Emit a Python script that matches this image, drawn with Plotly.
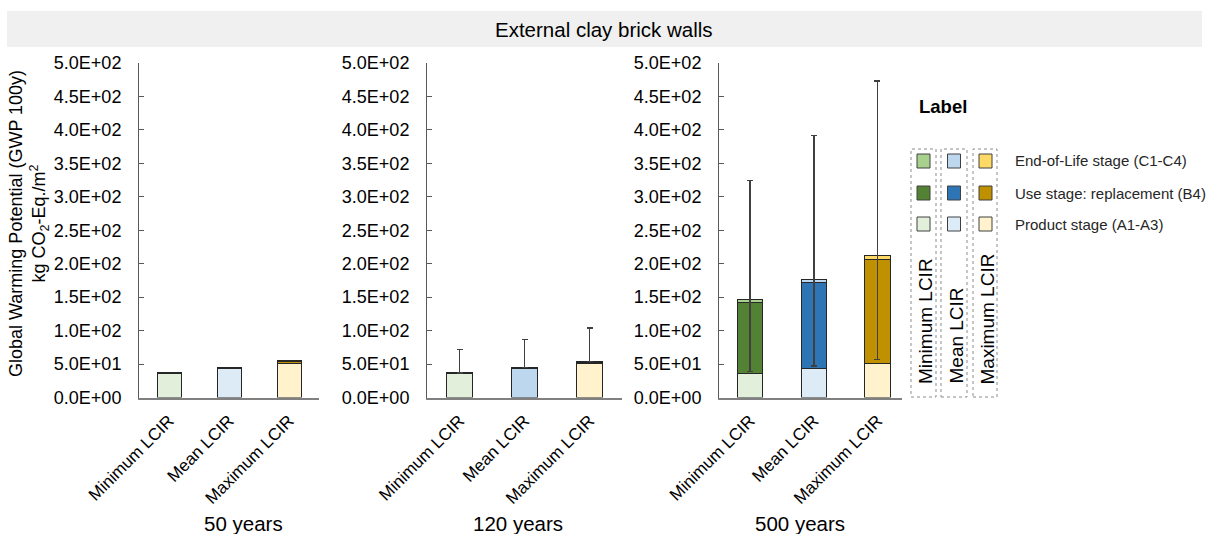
import plotly.graph_objects as go

W, H = 1212, 534

categories = ["Minimum LCIR", "Mean LCIR", "Maximum LCIR"]
periods = ["50 years", "120 years", "500 years"]
stage_labels = ["End-of-Life stage (C1-C4)", "Use stage: replacement (B4)", "Product stage (A1-A3)"]

# values (kg CO2-Eq./m2)
product_50 = [36.0, 43.0, 51.5]
b4_50 = [0.0, 0.0, 2.5]
eol_50 = [1.2, 1.2, 1.2]

product_120 = [36.0, 43.0, 51.5]
b4_120 = [0.0, 0.8, 1.3]
eol_120 = [1.0, 1.2, 1.2]
err_plus_120 = [35.0, 42.0, 50.0]
err_minus_120 = [0.0, 0.0, 0.0]

product_500 = [36.0, 43.0, 51.5]
b4_500 = [106.0, 129.5, 155.5]
eol_500 = [5.0, 4.5, 6.0]
err_plus_500 = [177.0, 215.0, 260.0]
err_minus_500 = [108.0, 130.0, 156.0]

ytick_vals = [0, 50, 100, 150, 200, 250, 300, 350, 400, 450, 500]
ytick_text = ["0.0E+00", "5.0E+01", "1.0E+02", "1.5E+02", "2.0E+02", "2.5E+02",
              "3.0E+02", "3.5E+02", "4.0E+02", "4.5E+02", "5.0E+02"]

product_colors = ["#E2EFDA", "#DDEBF7", "#FFF2CC"]
product_colors_120 = ["#E2EFDA", "#BDD7EE", "#FFF2CC"]
b4_colors = ["#548235", "#2E75B6", "#BF9000"]
eol_colors = ["#A9D18E", "#BDD7EE", "#FFD966"]

FONT = "Liberation Sans, Arial, sans-serif"


def px(x):
    return x / W


def py(y):
    return 1 - y / H


panels = [
    dict(prod=product_50, b4=b4_50, eol=eol_50, pc=product_colors, ep=None, em=None,
         dom=(139, 319), rng=[-0.5, 2.5]),
    dict(prod=product_120, b4=b4_120, eol=eol_120, pc=product_colors_120, ep=err_plus_120, em=err_minus_120,
         dom=(427, 622), rng=[-0.5, 2.5]),
    dict(prod=product_500, b4=b4_500, eol=eol_500, pc=product_colors, ep=err_plus_500, em=err_minus_500,
         dom=(719, 902), rng=[-0.487, 2.385]),
]

fig = go.Figure()
line = dict(color="#262626", width=1)
layout_axes = {}
for i, p in enumerate(panels, start=1):
    xa = "x" if i == 1 else f"x{i}"
    ya = "y" if i == 1 else f"y{i}"
    fig.add_trace(go.Bar(x=categories, y=p["prod"], xaxis=xa, yaxis=ya,
                         marker=dict(color=p["pc"], line=line), name=stage_labels[2], showlegend=False))
    fig.add_trace(go.Bar(x=categories, y=p["b4"], xaxis=xa, yaxis=ya,
                         marker=dict(color=b4_colors, line=line), name=stage_labels[1], showlegend=False))
    err = None
    if p["ep"] is not None:
        err = dict(type="data", symmetric=False, array=p["ep"], arrayminus=p["em"],
                   color="#404040", thickness=1.5, width=3)
    fig.add_trace(go.Bar(x=categories, y=p["eol"], xaxis=xa, yaxis=ya,
                         marker=dict(color=eol_colors, line=line), error_y=err,
                         name=stage_labels[0], showlegend=False))
    layout_axes["xaxis" if i == 1 else f"xaxis{i}"] = dict(
        domain=[px(p["dom"][0]), px(p["dom"][1])], anchor=ya, type="category",
        range=p["rng"], showline=True, linecolor="#808080", linewidth=1.5,
        ticks="", tickangle=-45, ticklabelstandoff=5,
        tickfont=dict(size=17, color="#000000", family=FONT),
        showgrid=False, zeroline=False, fixedrange=True, automargin=False)
    layout_axes["yaxis" if i == 1 else f"yaxis{i}"] = dict(
        domain=[py(397.5), py(63)], anchor=xa, range=[0, 500],
        showline=True, linecolor="#595959", linewidth=1,
        ticks="inside", ticklen=5, tickcolor="#595959", tickwidth=1,
        tickvals=ytick_vals, ticktext=ytick_text, ticklabelstandoff=13,
        tickfont=dict(size=18, color="#000000", family=FONT),
        showgrid=False, zeroline=False, fixedrange=True, automargin=False)

shapes = [
    dict(type="rect", xref="paper", yref="paper", x0=px(7), x1=px(1202), y0=py(47), y1=py(11),
         fillcolor="#F0F0F0", line=dict(width=0), layer="below"),
]


def ann(text, x, y, size, xanchor="center", yanchor="middle", angle=0, color="#000000"):
    return dict(text=text, x=px(x), y=py(y), xref="paper", yref="paper",
                xanchor=xanchor, yanchor=yanchor, textangle=angle, showarrow=False,
                font=dict(size=size, color=color, family=FONT))


annotations = [
    ann("External clay brick walls", 604, 29, 20.5),
    ann("Global Warming Potential (GWP 100y)<br>kg CO<sub>2</sub>-Eq./m<sup>2</sup>", 29, 224, 18, angle=-90),
]
sub_x = [243, 518, 800]
for t, sx in zip(periods, sub_x):
    annotations.append(ann(t, sx, 523, 20.5))

# custom legend
annotations.append(ann("<b>Label</b>", 917, 106, 18.5, xanchor="left"))
col_boxes = [(911, 936), (941, 967), (973, 997)]
col_centers = [923.5, 954, 985.5]
row_centers = [161, 193, 224]
col_colors = [
    [eol_colors[0], b4_colors[0], product_colors[0]],
    [eol_colors[1], b4_colors[1], product_colors[1]],
    [eol_colors[2], b4_colors[2], product_colors[2]],
]
for (x0, x1), cx, cols, cat in zip(col_boxes, col_centers, col_colors, categories):
    shapes.append(dict(type="rect", xref="paper", yref="paper", x0=px(x0), x1=px(x1),
                       y0=py(397), y1=py(149), line=dict(color="#8c8c8c", width=1, dash="dot"),
                       fillcolor="rgba(0,0,0,0)"))
    for ry, c in zip(row_centers, cols):
        shapes.append(dict(type="rect", xref="paper", yref="paper", x0=px(cx - 6.5), x1=px(cx + 6.5),
                           y0=py(ry + 7), y1=py(ry - 7), fillcolor=c,
                           line=dict(color="#404040", width=1)))
    annotations.append(ann(cat, cx + 1.5, 386, 19, yanchor="bottom", angle=-90))
for ry, lab in zip(row_centers, stage_labels):
    annotations.append(ann(lab, 1013, ry, 15, xanchor="left", color="#262626"))

fig.update_layout(
    width=W, height=H, margin=dict(l=0, r=0, t=0, b=0, autoexpand=False),
    paper_bgcolor="#FFFFFF", plot_bgcolor="#FFFFFF",
    barmode="stack", bargap=0.6, showlegend=False,
    font=dict(family=FONT, color="#000000"),
    shapes=shapes, annotations=annotations,
    **layout_axes,
)

fig.write_html("out.html", config={"displayModeBar": False})
